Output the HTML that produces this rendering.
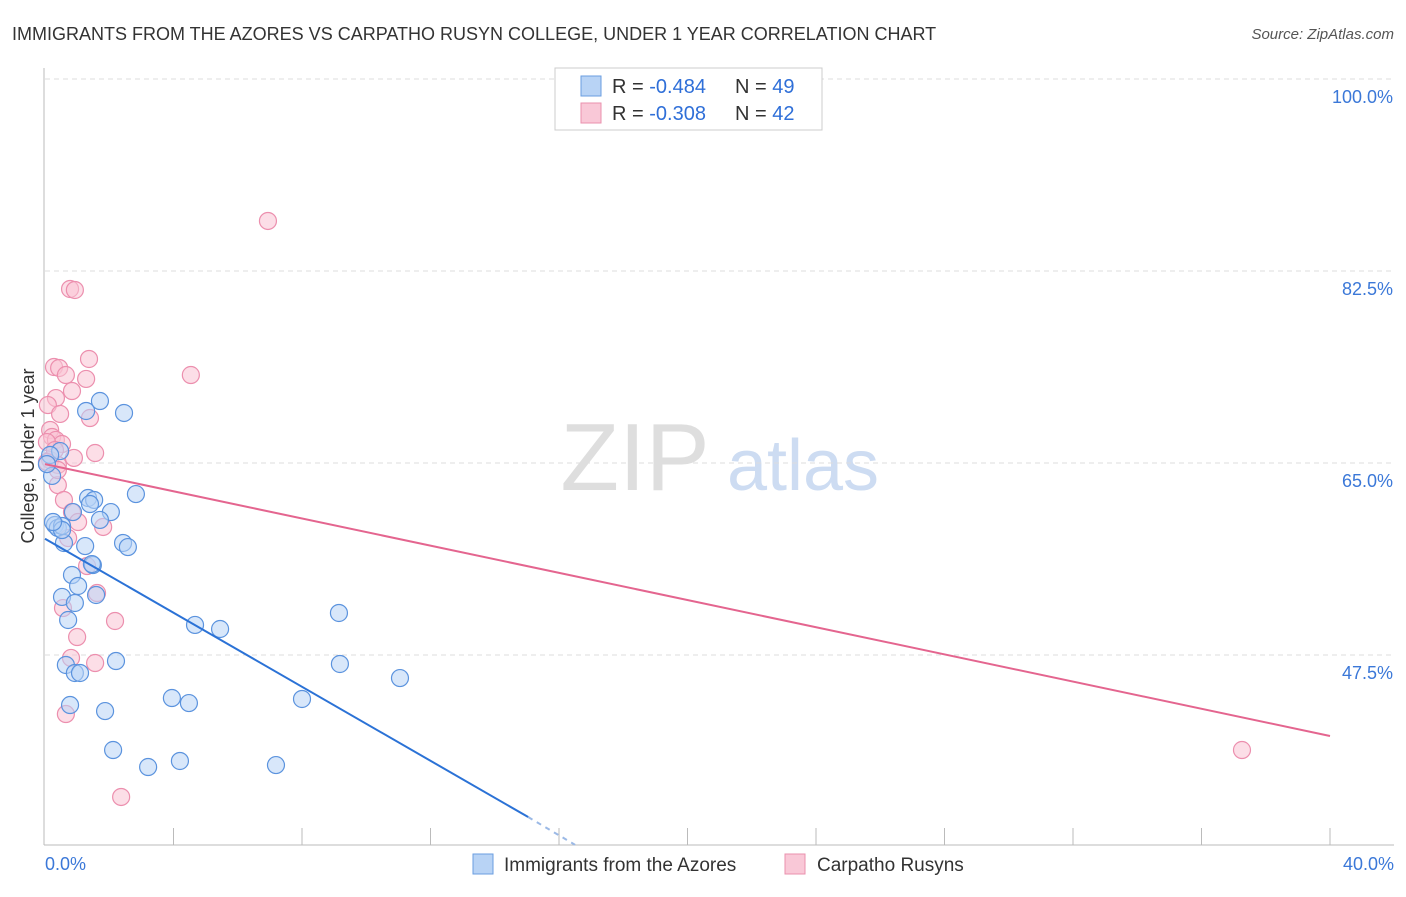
<!DOCTYPE html>
<html><head><meta charset="utf-8"><style>
body{margin:0;background:#fff;font-family:"Liberation Sans",sans-serif;}
svg text{font-family:"Liberation Sans",sans-serif;}
</style></head><body>
<svg id="chart" width="1406" height="892">
<text x="12" y="40" font-size="18" fill="#333">IMMIGRANTS FROM THE AZORES VS CARPATHO RUSYN COLLEGE, UNDER 1 YEAR CORRELATION CHART</text>
<text x="1394" y="39" font-size="15" fill="#555" font-style="italic" text-anchor="end">Source: ZipAtlas.com</text>
<g>
<text x="635" y="490" font-size="96" font-family="Liberation Serif" fill="#dedede" text-anchor="middle">ZIP</text>
<text x="803" y="490" font-size="72" fill="#cddcf2" text-anchor="middle">atlas</text>
</g>
<g id="grid"></g>
<g id="axes"></g>
<g id="marks"></g>
<text transform="translate(34,456) rotate(-90)" font-size="18" fill="#333" text-anchor="middle">College, Under 1 year</text>
<g>
<rect x="555" y="68" width="267" height="62" fill="#fff" stroke="#ccc"/>
<rect x="581" y="76" width="20" height="20" fill="#b8d3f5" stroke="#6a9ee0"/>
<rect x="581" y="103" width="20" height="20" fill="#f9c8d7" stroke="#ea90ad"/>
<text x="612" y="93" font-size="20" fill="#333">R = <tspan fill="#2f6fd8">-0.484</tspan></text>
<text x="735" y="93" font-size="20" fill="#333">N = <tspan fill="#2f6fd8">49</tspan></text>
<text x="612" y="120" font-size="20" fill="#333">R = <tspan fill="#2f6fd8">-0.308</tspan></text>
<text x="735" y="120" font-size="20" fill="#333">N = <tspan fill="#2f6fd8">42</tspan></text>
</g>
<g>
<rect x="473" y="854" width="20" height="20" fill="#b8d3f5" stroke="#6a9ee0"/>
<text x="504" y="871" font-size="19" fill="#333">Immigrants from the Azores</text>
<rect x="785" y="854" width="20" height="20" fill="#f9c8d7" stroke="#ea90ad"/>
<text x="817" y="871" font-size="19" fill="#333">Carpatho Rusyns</text>
</g>
</svg>
<script>
const yTicks=[100,82.5,65,47.5];
const yTickLabels=["100.0%","82.5%","65.0%","47.5%"];
const xTickLabels=["0.0%","40.0%"];
const blueX=[1.71,2.46,1.28,0.47,0.22,2.83,1.34,1.53,1.40,2.05,1.71,0.31,0.40,0.53,0.87,0.59,1.25,2.43,2.58,1.49,1.46,0.84,1.03,1.59,0.53,0.93,0.72,4.67,5.45,9.15,0.65,0.93,1.09,2.21,9.18,11.05,0.78,1.87,3.95,4.48,8.00,2.12,3.21,4.20,7.19,0.16,0.53,0.25,0.06];
const blueY=[70.65,69.56,69.74,66.09,63.82,62.17,61.81,61.63,61.26,60.53,59.81,59.35,59.08,59.26,60.53,57.71,57.43,57.71,57.34,55.70,55.79,54.79,53.79,52.97,52.79,52.24,50.69,50.24,49.87,51.33,46.59,45.86,45.86,46.95,46.68,45.40,42.94,42.39,43.58,43.12,43.49,38.84,37.29,37.84,37.47,65.73,58.89,59.62,64.9];
const pinkX=[6.94,0.78,0.93,1.37,0.28,0.44,0.65,1.28,4.54,0.84,0.34,0.09,0.47,1.40,0.16,0.22,0.34,0.53,1.56,0.90,0.06,0.16,0.40,0.40,0.59,0.84,1.81,1.03,0.72,1.31,1.62,0.56,2.18,1.00,0.81,1.56,0.65,2.37,37.26,0.40,0.31,0.06];
const pinkY=[87.06,80.86,80.77,74.48,73.75,73.66,73.02,72.66,73.02,71.56,70.92,70.28,69.47,69.10,68.01,67.37,67.10,66.73,65.91,65.46,66.91,65.27,64.82,62.99,61.63,60.53,59.17,59.62,58.16,55.61,53.15,51.78,50.60,49.14,47.23,46.77,42.12,34.56,38.84,64.36,66.18,65.09];
const blueTrend=[[0,58.1],[15.04,32.73]];
const blueTrendDash=[[15.04,32.73],[16.5,30.2]];
const pinkTrend=[[0,64.9],[40,40.12]];

const NS="http://www.w3.org/2000/svg";
const xs=v=>45+v/40*1285;
const ys=v=>463-(v-65)/17.5*192;
function mk(tag,attrs,parent){const e=document.createElementNS(NS,tag);for(const k in attrs)e.setAttribute(k,attrs[k]);parent.appendChild(e);return e;}
const grid=document.getElementById('grid'),axes=document.getElementById('axes'),marks=document.getElementById('marks');
yTicks.forEach((t,i)=>{
 const l=mk('line',{x1:45,x2:1394,y1:ys(t),y2:ys(t),stroke:'#ddd','stroke-dasharray':'5,4'},grid);
 
 
 const tx=mk('text',{x:1393,y:ys(t)+24,'font-size':18,fill:'#3b78d8','text-anchor':'end'},grid);
 tx.textContent=yTickLabels[i];
 
 
});
const ax=mk('line',{x1:44,x2:44,y1:68,y2:845,stroke:'#bbb'},axes);


const bx=mk('line',{x1:44,x2:1394,y1:845,y2:845,stroke:'#bbb'},axes);


for(let k=1;k<=10;k++){
 const t=mk('line',{x1:xs(k*4),x2:xs(k*4),y1:828,y2:845,stroke:'#bbb'},axes);
 
 
}
['start','end'].forEach((a,i)=>{
 const t=mk('text',{x:i==0?45:1394,y:870,'font-size':18,fill:'#3b78d8','text-anchor':a},axes);
 t.textContent=xTickLabels[i];
 
 
});
function dots(X,Y,fill,stroke,name){
 X.forEach((x,i)=>{
  const c=mk('circle',{cx:xs(x),cy:ys(Y[i]),r:8.5,fill:fill,'fill-opacity':0.55,stroke:stroke,'stroke-width':1.2},marks);
  
  
 });
}
dots(pinkX,pinkY,'#f9c3d4','#ec8fae','point-carpatho-rusyn');
dots(blueX,blueY,'#b8d3f5','#5b93de','point-azores');
function line(p,col,name,dash){
 const l=mk('line',{x1:xs(p[0][0]),y1:ys(p[0][1]),x2:xs(p[1][0]),y2:ys(p[1][1]),stroke:col,'stroke-width':2},marks);
 if(dash)l.setAttribute('stroke-dasharray','5,5');
 
 
}
line(pinkTrend,'#e4658f','trendline-carpatho-rusyn');
line(blueTrend,'#2b72d6','trendline-azores');
line(blueTrendDash,'#9bb9e6','trendline-azores-extension',true);
</script>
</body></html>
